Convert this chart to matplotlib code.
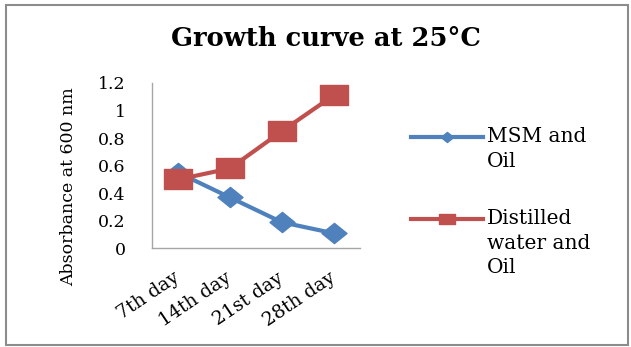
import matplotlib
matplotlib.use("Agg")
import matplotlib.pyplot as plt
from matplotlib.patches import Rectangle
from matplotlib.lines import Line2D
from matplotlib.path import Path
from matplotlib.transforms import ScaledTranslation

days = ["7th day", "14th day", "21st day", "28th day"]
msm_oil = [0.55, 0.37, 0.19, 0.11]
distilled_oil = [0.50, 0.58, 0.85, 1.11]
series_labels = ["MSM and\nOil", "Distilled\nwater and\nOil"]
y_ticks = [0, 0.2, 0.4, 0.6, 0.8, 1.0, 1.2]
y_tick_labels = ["0", "0.2", "0.4", "0.6", "0.8", "1", "1.2"]

plt.rcParams["font.family"] = ["DejaVu Serif"]

blue = "#4F81BD"
red = "#C0504D"

# wide square and diamond marker shapes
wide_square = Path([(-0.7, -0.5), (0.7, -0.5), (0.7, 0.5), (-0.7, 0.5), (-0.7, -0.5)],
                   [Path.MOVETO, Path.LINETO, Path.LINETO, Path.LINETO, Path.CLOSEPOLY])
wide_diamond = Path([(0, -0.5), (0.62, 0), (0, 0.5), (-0.62, 0), (0, -0.5)],
                    [Path.MOVETO, Path.LINETO, Path.LINETO, Path.LINETO, Path.CLOSEPOLY])

fig = plt.figure(figsize=(6.31, 3.47), dpi=100)
fig.patch.set_facecolor("white")
fig.patches.append(Rectangle((0.010, 0.006), 0.985, 0.980, transform=fig.transFigure,
                             fill=False, edgecolor="#8C8C8C", linewidth=1.5))

ax = fig.add_axes([0.241, 0.284, 0.329, 0.477])
x = list(range(len(days)))
ax.plot(x, msm_oil, color=blue, linewidth=3, marker=wide_diamond, markersize=18,
        markerfacecolor=blue, markeredgecolor=blue, label=series_labels[0])
ax.plot(x, distilled_oil, color=red, linewidth=3, marker=wide_square, markersize=20,
        markerfacecolor=red, markeredgecolor=red, label=series_labels[1])

ax.set_xlim(-0.5, len(days) - 0.5)
ax.set_ylim(0, 1.2)
ax.set_yticks(y_ticks)
ax.set_yticklabels(y_tick_labels, fontsize=12.5)
ax.set_xticks(x)
ax.set_xticklabels(days, fontsize=13.5, rotation=34, ha="right", va="center",
                   rotation_mode="anchor")
offset = ScaledTranslation(9 / 100, 0, fig.dpi_scale_trans)
for lbl in ax.get_xticklabels():
    lbl.set_transform(lbl.get_transform() + offset)
ax.tick_params(axis="both", length=0)
ax.tick_params(axis="y", pad=19)
ax.tick_params(axis="x", pad=20)
for side in ["top", "right"]:
    ax.spines[side].set_visible(False)
for side in ["left", "bottom"]:
    ax.spines[side].set_color("#A6A6A6")
    ax.spines[side].set_linewidth(1)
ax.set_ylabel("Absorbance at 600 nm", fontsize=12.5)
ax.yaxis.set_label_coords(-0.36, 0.375)

fig.text(0.516, 0.89, "Growth curve at 25°C", ha="center", va="center",
         fontsize=18.5, fontweight="bold")

# legend keys and labels
def legend_entry(y_px, color, marker, msize, label):
    yf = 1 - y_px / 347
    fig.add_artist(Line2D([411 / 631, 483 / 631], [yf, yf], transform=fig.transFigure,
                          color=color, linewidth=3))
    fig.add_artist(Line2D([447 / 631], [yf], transform=fig.transFigure, color=color,
                          marker=marker, markersize=msize, linestyle="none"))
    fig.text(487 / 631, yf + 10 / 347, label, ha="left", va="top", fontsize=14.5,
             linespacing=1.38)

legend_entry(137, blue, wide_diamond, 9, series_labels[0])
legend_entry(219, red, wide_square, 11, series_labels[1])

fig.savefig("out.png", dpi=100)
